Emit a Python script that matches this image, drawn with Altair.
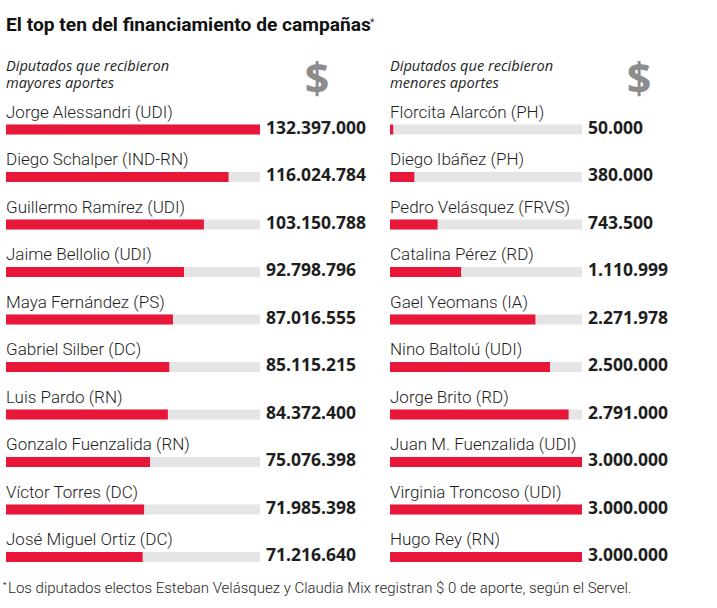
import altair as alt
import pandas as pd

left_names = ["Jorge Alessandri (UDI)", "Diego Schalper (IND-RN)", "Guillermo Ramírez (UDI)",
              "Jaime Bellolio (UDI)", "Maya Fernández (PS)", "Gabriel Silber (DC)",
              "Luis Pardo (RN)", "Gonzalo Fuenzalida (RN)", "Víctor Torres (DC)",
              "José Miguel Ortiz (DC)"]
left_values = [132397000, 116024784, 103150788, 92798796, 87016555, 85115215,
               84372400, 75076398, 71985398, 71216640]

right_names = ["Florcita Alarcón (PH)", "Diego Ibáñez (PH)", "Pedro Velásquez (FRVS)",
               "Catalina Pérez (RD)", "Gael Yeomans (IA)", "Nino Baltolú (UDI)",
               "Jorge Brito (RD)", "Juan M. Fuenzalida (UDI)", "Virginia Troncoso (UDI)",
               "Hugo Rey (RN)"]
right_values = [50000, 380000, 743500, 1110999, 2271978, 2500000, 2791000,
                3000000, 3000000, 3000000]

title_text = "El top ten del financiamiento de campañas"
left_header = ["Diputados que recibieron", "mayores aportes"]
right_header = ["Diputados que recibieron", "menores aportes"]
footnote_text = "Los diputados electos Esteban Velásquez y Claudia Mix registran $ 0 de aporte, según el Servel."

RED = "#e8173a"
TRACK = "#e5e5e8"
TXT = "#1e1e1e"
NAME_FONT = "Roboto"
VAL_FONT = "Open Sans"


def make_df(names, values):
    mx = max(values)
    return pd.DataFrame({
        "rank": list(range(len(names))),
        "name": names,
        "value": values,
        "zero": [0] * len(values),
        "track": [mx] * len(values),
        "label": [f"{v:,}".replace(",", ".") for v in values],
    })


def panel(names, values, header, x0, bar_w, extra=None):
    df = make_df(names, values)
    mx = max(values)
    xs = alt.Scale(domain=[0, mx], range=[x0, x0 + bar_w])
    ys = alt.Scale(domain=[0, 9], range=[129.5, 557])
    base = alt.Chart(df)
    X0 = alt.X("zero:Q", scale=xs, axis=None)
    Y = alt.Y("rank:Q", scale=ys, axis=None)
    track = base.mark_rule(strokeWidth=10, color=TRACK, strokeCap="butt").encode(
        x=X0, x2="track:Q", y=Y)
    bar = base.mark_rule(strokeWidth=10, color=RED, strokeCap="butt").encode(
        x=X0, x2="value:Q", y=Y)
    name = base.mark_text(align="left", baseline="alphabetic", dy=-12, font=NAME_FONT,
                          fontWeight=300, fontSize=17, color=TXT).encode(
        x=X0, y=Y, text="name:N")
    val = base.mark_text(align="left", baseline="middle", dx=6, dy=-1, font=VAL_FONT,
                         fontWeight="bold", fontSize=17.5, color=TXT).encode(
        x=alt.X("track:Q", scale=xs, axis=None), y=Y, text="label:N")
    hdr = alt.Chart(pd.DataFrame({"t": [header]})).mark_text(
        align="left", baseline="top", font=VAL_FONT, fontStyle="italic", fontSize=14.6,
        lineHeight=16.5, color=TXT
    ).encode(x=alt.value(x0), y=alt.value(59), text="t")
    dollar = alt.Chart(pd.DataFrame({"t": ["$"]})).mark_text(
        align="center", baseline="middle", font=VAL_FONT, fontWeight="bold",
        fontSize=43, color="#8c8c8c"
    ).encode(x=alt.value(x0 + bar_w + 57), y=alt.value(81), text="t")
    layers = [track, bar, name, val, hdr, dollar]
    if extra:
        layers += extra
    return alt.layer(*layers)


title = alt.Chart(pd.DataFrame({"t": [title_text]})).mark_text(
    align="left", baseline="alphabetic", font="Roboto", fontWeight="bold", fontSize=19.2,
    color="#111111"
).encode(x=alt.value(6), y=alt.value(31), text="t")
title_star = alt.Chart(pd.DataFrame({"t": ["*"]})).mark_text(
    align="left", baseline="alphabetic", font="Roboto", fontSize=10, color="#333333"
).encode(x=alt.value(370), y=alt.value(26), text="t")
foot = alt.Chart(pd.DataFrame({"t": [footnote_text]})).mark_text(
    align="left", baseline="alphabetic", font=NAME_FONT, fontWeight=300, fontSize=15,
    color=TXT
).encode(x=alt.value(8), y=alt.value(593), text="t")
foot_star = alt.Chart(pd.DataFrame({"t": ["*"]})).mark_text(
    align="left", baseline="alphabetic", font=NAME_FONT, fontSize=8, color=TXT
).encode(x=alt.value(3), y=alt.value(587), text="t")

left = panel(left_names, left_values, left_header, 6, 254,
             extra=[title, title_star, foot, foot_star])
right = panel(right_names, right_values, right_header, 390, 192)

chart = alt.layer(left, right).resolve_scale(x="independent").properties(
    width=717, height=608, padding=0, background="white",
    autosize=alt.AutoSizeParams(type="none")
).configure_view(stroke=None)

chart.save("out.html", embed_options={"renderer": "svg", "actions": False})
